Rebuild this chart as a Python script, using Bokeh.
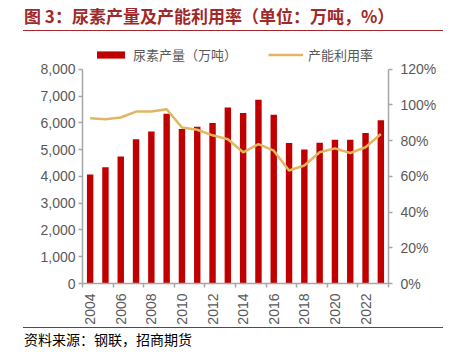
from bokeh.plotting import figure
from bokeh.layouts import column
from bokeh.models import (Range1d, LinearAxis, FixedTicker, NumeralTickFormatter,
                          PrintfTickFormatter, Legend, LegendItem, Div,
                          ColumnDataSource)
from bokeh.embed import file_html
from bokeh.resources import INLINE
import math

years = list(range(2004, 2024))
production = [4070, 4340, 4740, 5390, 5680, 6340, 5770, 5850, 5990, 6570,
              6370, 6860, 6300, 5250, 5000, 5260, 5370, 5370, 5620, 6100]
utilization = [92.6, 92.0, 93.0, 96.3, 96.3, 97.6, 87.4, 86.1, 83.0, 80.8,
               73.5, 78.1, 74.4, 63.3, 66.1, 73.5, 75.7, 73.1, 76.3, 83.7]
left_ticks = list(range(0, 8001, 1000))
right_ticks = list(range(0, 121, 20))
label_years = list(range(2004, 2023, 2))

title_text = "图 3：尿素产量及产能利用率（单位：万吨，%）"
source_text = "资料来源：钢联，招商期货"
bar_name = "尿素产量（万吨）"
line_name = "产能利用率"

BAR = "#C00000"
LINE = "#E2B660"
AX = "#A6A6A6"
TXT = "#595959"
DARKRED = "#A0282A"
FONT = "Liberation Sans"
CJK = "Noto Sans CJK SC"

src = ColumnDataSource(dict(year=years, prod=production, util=utilization))

# page geometry (pixels)
W = 451
TITLE_H, SRC_H = 31, 32
FIG_H = 359 - TITLE_H - SRC_H           # 296
FL, FR = 82, 388                          # frame left / right
FTOP = 40 - TITLE_H                       # frame top inside figure (legend lives here)
AXTOP = 69 - TITLE_H                      # where the axes end (8000 / 120%)
FBOT = 285 - TITLE_H                      # frame bottom inside figure
FH = FBOT - FTOP
AH = FBOT - AXTOP
Y_MAX, P_MAX = 8000, 120

p = figure(width=W, height=FIG_H, output_backend="svg", toolbar_location=None,
           x_range=Range1d(2003.5, 2023.5),
           y_range=Range1d(0, Y_MAX * FH / AH),
           min_border_left=FL, min_border_top=FTOP,
           min_border_right=W - FR, min_border_bottom=FIG_H - FBOT,
           x_axis_type=None, y_axis_type=None)
p.outline_line_color = None
p.xgrid.visible = False
p.ygrid.visible = False
p.extra_y_ranges = {"pct": Range1d(0, P_MAX * FH / AH)}

def style_axis(ax):
    ax.axis_line_color = AX
    ax.axis_line_width = 1.5
    ax.major_tick_line_color = AX
    ax.major_tick_line_width = 1.5
    ax.major_tick_in = 0
    ax.major_tick_out = 4
    ax.minor_tick_line_color = None
    ax.major_label_text_color = TXT
    ax.major_label_text_font = FONT
    ax.major_label_text_font_size = "14px"

xa = LinearAxis(ticker=FixedTicker(ticks=label_years,
                                   minor_ticks=[y - 0.5 for y in range(2004, 2025, 2)]),
                formatter=PrintfTickFormatter(format="%d"))
style_axis(xa)
xa.major_tick_line_color = None
xa.minor_tick_line_color = AX
xa.minor_tick_line_width = 1.5
xa.minor_tick_in = 0
xa.minor_tick_out = 4
xa.major_label_orientation = math.pi / 2
xa.major_label_standoff = 6
p.add_layout(xa, "below")

ya = LinearAxis(ticker=FixedTicker(ticks=left_ticks), bounds=(0, Y_MAX),
                formatter=NumeralTickFormatter(format="0,0"))
style_axis(ya)
ya.major_label_standoff = 3
p.add_layout(ya, "left")

yb = LinearAxis(y_range_name="pct", ticker=FixedTicker(ticks=right_ticks),
                bounds=(0, P_MAX), formatter=PrintfTickFormatter(format="%d%%"))
style_axis(yb)
yb.major_label_standoff = 8
p.add_layout(yb, "right")

bars = p.vbar(x="year", top="prod", width=0.42, source=src,
              fill_color=BAR, line_color=None)
ln = p.line(x="year", y="util", source=src, y_range_name="pct",
            line_color=LINE, line_width=2.5)

# legend (x, y) is its bottom-left corner, measured from the frame's bottom-left
legend = Legend(items=[LegendItem(label=bar_name, renderers=[bars]),
                       LegendItem(label=line_name, renderers=[ln])],
                orientation="horizontal", location=(11, FH - 26),
                background_fill_alpha=0, border_line_color=None,
                label_text_font=CJK, label_text_font_size="13px",
                label_text_color=TXT, glyph_width=35, glyph_height=9,
                label_height=20, label_standoff=5, spacing=31, padding=0, margin=0)
p.add_layout(legend, "center")

title_div = Div(text=title_text, width=420, height=TITLE_H, margin=(0, 0, 0, 23),
                styles={"font-family": CJK, "font-size": "17px", "font-weight": "bold",
                        "color": DARKRED, "border-bottom": "1.5px solid " + DARKRED,
                        "line-height": "27px", "padding-top": "2px", "padding-left": "1px",
                        "box-sizing": "border-box", "white-space": "nowrap"})
source_div = Div(text=source_text, width=420, height=SRC_H, margin=(0, 0, 0, 23),
                 styles={"font-family": CJK, "font-size": "14px", "color": "#000000",
                         "border-top": "1.5px solid " + DARKRED,
                         "line-height": "22px", "padding-left": "1px",
                         "box-sizing": "border-box", "white-space": "nowrap"})

layout = column(title_div, p, source_div, spacing=0)
open("out.html", "w").write(file_html(layout, INLINE))
